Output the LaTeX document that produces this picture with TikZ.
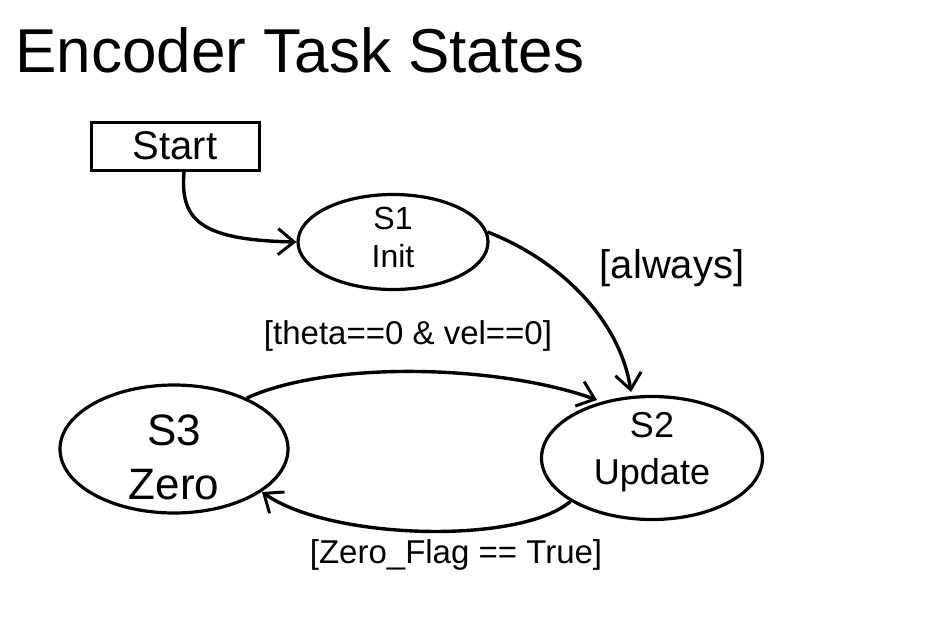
\documentclass[tikz,border=0pt]{standalone}
\usepackage{fontspec}
\setmainfont{Liberation Sans}
\usetikzlibrary{arrows.meta,shapes.geometric}
\begin{document}
\begin{tikzpicture}[x=1pt,y=-1pt,
  stateel/.style={draw,line width=3.2pt,ellipse,inner sep=0pt},
  startbox/.style={draw,line width=3pt,rectangle,minimum width=168pt,minimum height=48pt,inner sep=0pt,font=\fontsize{40}{42}\selectfont},
  conn/.style={line width=3.4pt,-{Straight Barb[length=16pt,width=26pt,line width=3pt]}},
  lbl/.style={font=\fontsize{33}{35}\selectfont},
  sttext/.style={align=center}]
\useasboundingbox (0,0) rectangle (945,635);
\node[font=\fontsize{62}{68}\selectfont,anchor=west] (title) at (12,50) {Encoder Task States};
\node[startbox] (start) at (175,146) {Start};
\node[stateel,minimum width=190pt,minimum height=95pt] (s1) at (393,242) {};
\node[sttext,font=\fontsize{32}{38}\selectfont] (s1t) at (393,237) {S1\\Init};
\node[stateel,minimum width=221pt,minimum height=123pt] (s2) at (652,458) {};
\node[sttext,font=\fontsize{36}{47}\selectfont] (s2t) at (652,452) {S2\\Update};
\node[stateel,minimum width=228pt,minimum height=128pt] (s3) at (174,449) {};
\node[sttext,font=\fontsize{44}{54}\selectfont] (s3t) at (174,457) {S3\\Zero};
\coordinate (st0) at (184,172);
\draw[conn] (st0) .. controls (180,220) and (200,240) .. (s1.west);
\draw[conn] (s1.6) .. controls (560,260) and (620,320) .. (631,392);
\node[lbl,font=\fontsize{40}{42}\selectfont] (l1) at (672,268) {[always]};
\draw[conn] (s3.35) .. controls (330,360) and (500,365) .. (597,400);
\node[lbl] (l2) at (408,336) {[theta==0 \& vel==0]};
\draw[conn] (s2.208) .. controls (520,545) and (330,540) .. (262,492);
\node[lbl] (l3) at (456,555) {[Zero\_Flag == True]};
\end{tikzpicture}
\end{document}
